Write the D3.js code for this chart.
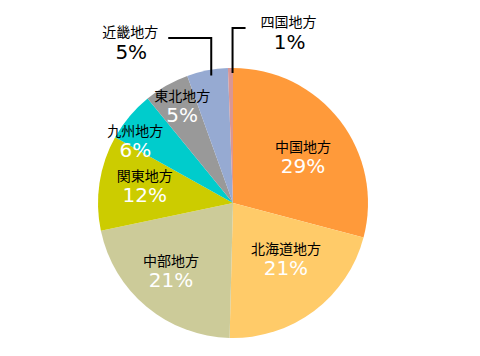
<!DOCTYPE html>
<html>
<head>
<meta charset="utf-8">
<script src="https://cdn.jsdelivr.net/npm/d3@7"></script>
<style>
  html, body { margin: 0; padding: 0; background: #fff; }
  svg { display: block; }
  text { font-family: "DejaVu Sans", "Noto Sans CJK JP", sans-serif; }
</style>
</head>
<body>
<svg id="chart" width="480" height="356"></svg>
<script>
// ---- data ----
const categories = ["中国地方", "北海道地方", "中部地方", "関東地方", "九州地方", "東北地方", "近畿地方", "四国地方"];
const values = [29.1, 21.3, 21.3, 11.4, 6.0, 5.4, 4.9, 0.6];
const percentLabels = ["29%", "21%", "21%", "12%", "6%", "5%", "5%", "1%"];
const colors = ["#FF9A3A", "#FFCB69", "#CCCB99", "#CCCC00", "#00CCCC", "#999999", "#96AAD2", "#D99694"];

// ---- styling / layout ----
const width = 480, height = 356;
const cx = 233, cy = 203, R = 135;
// inside label placement: radius and angular nudge (degrees)
const labelR = [84, 77, 92, 90, 116, 110];
const labelNudge = [4, -6.5, 2.6, 2.6, -7.3, 2];

const svg = d3.select("#chart");
const g = svg.append("g").attr("transform", `translate(${cx},${cy})`);

const data = categories.map((c, i) => ({ name: c, value: values[i], pct: percentLabels[i], color: colors[i], i }));

const pie = d3.pie().sort(null).value(d => d.value).startAngle(0).endAngle(2 * Math.PI);
const arcs = pie(data);
const arc = d3.arc().innerRadius(0).outerRadius(R);

g.selectAll("path.slice")
  .data(arcs)
  .join("path")
  .attr("class", "slice")
  .attr("d", arc)
  .attr("fill", d => d.data.color);

const polar = (a, r) => [r * Math.sin(a), -r * Math.cos(a)];

// inside labels
arcs.forEach((d, i) => {
  if (i >= 6) return;
  const mid = (d.startAngle + d.endAngle) / 2 + labelNudge[i] * Math.PI / 180;
  const [x, y] = polar(mid, labelR[i]);
  g.append("text")
    .attr("x", x).attr("y", y - 9.5)
    .attr("text-anchor", "middle").attr("dominant-baseline", "central")
    .attr("font-size", 14).attr("fill", "#000")
    .text(d.data.name);
  g.append("text")
    .attr("x", x).attr("y", y + 9.5)
    .attr("text-anchor", "middle").attr("dominant-baseline", "central")
    .attr("font-size", 20).attr("fill", "#fff")
    .text(d.data.pct);
});

// outside labels with leader lines
const outside = [
  { i: 6, elbowUp: 35, dx: -43, labelDx: -38, shift: 3 },
  { i: 7, elbowUp: 45, dx: 13, labelDx: 43, shift: 2 }
];
outside.forEach(o => {
  const d = arcs[o.i];
  const mid = (d.startAngle + d.endAngle) / 2;
  let [x0, y0] = polar(mid, R - 5);
  x0 += o.shift;
  const ye = -R - o.elbowUp + 5;
  const x1 = x0 + o.dx;
  g.append("path")
    .attr("d", `M${x0},${y0}L${x0},${ye}L${x1},${ye}`)
    .attr("fill", "none").attr("stroke", "#000").attr("stroke-width", 2);
  const lx = x1 + o.labelDx;
  g.append("text")
    .attr("x", lx).attr("y", ye - 6)
    .attr("text-anchor", "middle").attr("dominant-baseline", "central")
    .attr("font-size", 14).attr("fill", "#000")
    .text(d.data.name);
  g.append("text")
    .attr("x", lx + 1).attr("y", ye + 14)
    .attr("text-anchor", "middle").attr("dominant-baseline", "central")
    .attr("font-size", 20).attr("fill", "#000")
    .text(d.data.pct);
});
</script>
</body>
</html>
